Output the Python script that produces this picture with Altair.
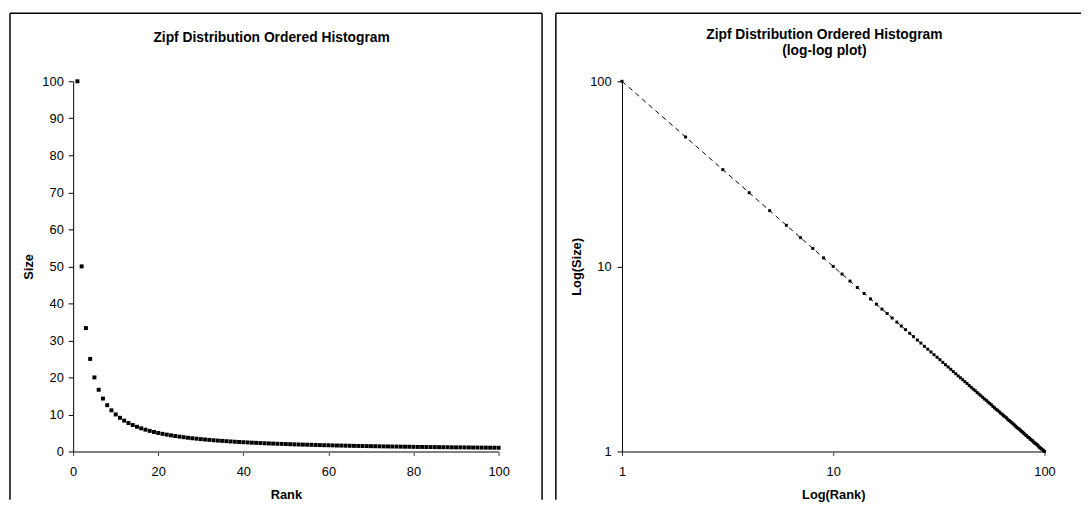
import altair as alt
import pandas as pd

# ---------------- data ----------------
RANK = list(range(1, 101))
SIZE = [
    100, 50, 33.33, 25, 20, 16.67, 14.29, 12.5, 11.11, 10,
    9.09, 8.33, 7.69, 7.14, 6.67, 6.25, 5.88, 5.56, 5.26, 5,
    4.76, 4.55, 4.35, 4.17, 4, 3.85, 3.7, 3.57, 3.45, 3.33,
    3.23, 3.13, 3.03, 2.94, 2.86, 2.78, 2.7, 2.63, 2.56, 2.5,
    2.44, 2.38, 2.33, 2.27, 2.22, 2.17, 2.13, 2.08, 2.04, 2,
    1.96, 1.92, 1.89, 1.85, 1.82, 1.79, 1.75, 1.72, 1.69, 1.67,
    1.64, 1.61, 1.59, 1.56, 1.54, 1.52, 1.49, 1.47, 1.45, 1.43,
    1.41, 1.39, 1.37, 1.35, 1.33, 1.32, 1.3, 1.28, 1.27, 1.25,
    1.23, 1.22, 1.2, 1.19, 1.18, 1.16, 1.15, 1.14, 1.12, 1.11,
    1.1, 1.09, 1.08, 1.06, 1.05, 1.04, 1.03, 1.02, 1.01, 1,
]
TITLE_LEFT = "Zipf Distribution Ordered Histogram"
TITLE_RIGHT = ["Zipf Distribution Ordered Histogram", "(log-log plot)"]
X_TITLE_LEFT = "Rank"
Y_TITLE_LEFT = "Size"
X_TITLE_RIGHT = "Log(Rank)"
Y_TITLE_RIGHT = "Log(Size)"
LIN_X_TICKS = [0, 20, 40, 60, 80, 100]
LIN_Y_TICKS = [0, 10, 20, 30, 40, 50, 60, 70, 80, 90, 100]
LOG_TICKS = [1, 10, 100]

df = pd.DataFrame({"rank": RANK, "size": SIZE})
one = pd.DataFrame({"k": [0]})

FONT = "Liberation Sans"
W1, W2, H = 431, 428, 375
FRAME_TOP = -69
FRAME_BOTTOM = 424


def ax(title, values, fmt, is_x, title_x, title_y, tick, pad):
    common = dict(
        title=title, values=values, format=fmt, grid=False,
        labelFont=FONT, labelFontSize=13, labelColor="black",
        labelPadding=pad, tickSize=tick, labelFlush=False, labelOverlap=False,
        titleFont=FONT, titleFontSize=13, titleFontWeight="bold", titleColor="black",
        titleX=title_x, titleY=title_y, titleAlign="center", titleBaseline="middle",
    )
    if is_x:
        common.update(domainColor="#808080", domainWidth=2, tickColor="#333333", tickWidth=1)
    else:
        common.update(domainColor="#000000", domainWidth=1, tickColor="#000000", tickWidth=1,
                      titleAngle=270)
    return alt.Axis(**common)


def deco(left, right, title_lines, title_x, title_ys, right_edge=True):
    base = alt.Chart(one)
    layers = [
        base.mark_rule(color="black", strokeWidth=1.5).encode(
            x=alt.value(left), y=alt.value(FRAME_TOP), y2=alt.value(FRAME_BOTTOM)),
        base.mark_rule(color="black", strokeWidth=1.5).encode(
            x=alt.value(left), x2=alt.value(right), y=alt.value(FRAME_TOP)),
    ]
    if right_edge:
        layers.append(base.mark_rule(color="black", strokeWidth=1.5).encode(
            x=alt.value(right), y=alt.value(FRAME_TOP), y2=alt.value(FRAME_BOTTOM)))
    for line, yy in zip(title_lines, title_ys):
        layers.append(base.mark_text(font=FONT, fontSize=14, fontWeight="bold",
                                     align="center", baseline="middle", color="black").encode(
            x=alt.value(title_x), y=alt.value(yy), text=alt.value(line)))
    return layers


# ---------------- left panel ----------------
left_pts = alt.Chart(df).mark_square(size=16, color="black", opacity=1).encode(
    x=alt.X("rank:Q", scale=alt.Scale(domain=[0, 100], nice=False),
            axis=ax(X_TITLE_LEFT, LIN_X_TICKS, "d", True, W1 / 2, 43.5, 4, 10)),
    y=alt.Y("size:Q", scale=alt.Scale(domain=[0, 100], nice=False),
            axis=ax(Y_TITLE_LEFT, LIN_Y_TICKS, "d", False, -45, H / 2, 5, 5)),
)
left = alt.layer(left_pts, *deco(-64, 475, [TITLE_LEFT], 201, [-44])).properties(width=W1, height=H)

# ---------------- right panel ----------------
xr = alt.X("rank:Q", scale=alt.Scale(type="log", domain=[1, 100], nice=False),
           axis=ax(X_TITLE_RIGHT, LOG_TICKS, "d", True, W2 / 2, 43.5, 4, 10))
yr = alt.Y("size:Q", scale=alt.Scale(type="log", domain=[1, 100], nice=False),
           axis=ax(Y_TITLE_RIGHT, LOG_TICKS, "d", False, -46, H / 2, 5, 6))
right_line = alt.Chart(df).mark_line(color="black", strokeWidth=1, strokeDash=[5, 4]).encode(
    x=xr, y=yr, order="rank:Q")
right_pts = alt.Chart(df).mark_square(size=9, color="black", opacity=1).encode(x=xr, y=yr)
right = alt.layer(right_line, right_pts,
                  *deco(-67, 465, TITLE_RIGHT, 205, [-47, -31], right_edge=False)
                  ).properties(width=W2, height=H)

chart = alt.hconcat(left, right, spacing=10, padding=0, background="white").configure_view(
    stroke="transparent")

chart.save("out.html", embed_options={"renderer": "svg", "actions": False})
